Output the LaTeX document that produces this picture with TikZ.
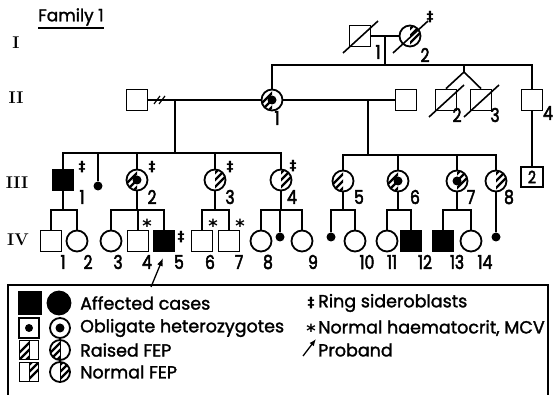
\documentclass[tikz,border=0pt]{standalone}
\usepackage{fontspec}
\usepackage{graphicx}
\usetikzlibrary{calc,arrows.meta}
\newfontfamily\pop[FakeBold=1.6]{Poppins}
\newfontfamily\popb[FakeBold=3]{Poppins}
\newfontfamily\dvs{DejaVu Sans}
\newcommand\hatchC[3]{\begin{scope}\clip (#1.center) circle (#3pt);
  \clip ($(#1.center)+(0,-15)$) rectangle ($(#1.center)+(#2*15,15)$);
  \foreach \k in {-7,0,7} \draw[line width=2.4pt] ($(#1.center)+(\k-15,15)$) -- ($(#1.center)+(\k+15,-15)$);
  \end{scope}}
\newcommand\hatchS[3]{\begin{scope}\clip ($(#1.center)+(-#3,-#3)$) rectangle ($(#1.center)+(#3,#3)$);
  \clip ($(#1.center)+(0,-15)$) rectangle ($(#1.center)+(#2*15,15)$);
  \foreach \k in {-7,0,7} \draw[line width=2.4pt] ($(#1.center)+(\k-15,15)$) -- ($(#1.center)+(\k+15,-15)$);
  \end{scope}
  \draw[line width=1pt] ($(#1.center)+(0,-#3)$) -- ($(#1.center)+(0,#3)$);}
\newcommand\hetdot[2]{\fill (#1.center) circle (#2pt);}
\newcommand\dead[1]{\draw[line width=1.6pt] ($(#1.center)+(-17,17)$) -- ($(#1.center)+(18,-15)$);}
\newcommand\nm[1]{\scalebox{0.82}[1]{#1}}
\begin{document}
\begin{tikzpicture}[x=1pt,y=-1pt,
  ln/.style={line width=1.6pt},
  male/.style={draw, rectangle, minimum size=21pt, inner sep=0pt, line width=1.8pt},
  female/.style={draw, circle, minimum size=21pt, inner sep=0pt, line width=1.8pt},
  aff/.style={fill=black},
  tinyd/.style={circle, fill=black, minimum size=9pt, inner sep=0pt},
  num/.style={font=\popb\fontsize{19}{19}\selectfont, inner sep=0pt},
  gen/.style={font=\bfseries\fontsize{17}{17}\selectfont, inner sep=0pt},
  ring/.style={font=\dvs\bfseries\fontsize{14}{14}\selectfont, inner sep=0pt},
  star/.style={font=\dvs\bfseries\fontsize{18}{18}\selectfont, inner sep=0pt},
  lgt/.style={font=\pop\fontsize{17.5}{17.5}\selectfont, inner sep=0pt, anchor=west}
]
\useasboundingbox (0,0) rectangle (555,395);
\fill[white] (0,0) rectangle (555,395);

% title and generation labels
\node[font=\pop\fontsize{17}{17}\selectfont, inner sep=0pt, anchor=west] (title) at (38,17) {Family 1};
\draw[line width=1.3pt] ($(title.south west)+(0,2)$) -- ($(title.south east)+(0,2)$);
\node[gen] (gI) at (16,43) {I};
\node[gen] (gII) at (16,98) {II};
\node[gen] (gIII) at (17,183) {III};
\node[gen] (gIV) at (18,240) {IV};

% generation I
\node[male] (i1) at (360,36) {};
\node[female] (i2) at (410,36) {};
\hatchC{i2}{1}{10.5}
\dead{i1}\dead{i2}
\draw[ln] (i1.east) -- (i2.west);
\coordinate (iM) at (385,36);
\coordinate (yS) at (385,65);
\draw[ln] (iM) -- (yS);
\node[num] (li1) at (378,52) {\nm{1}};
\node[num] (li2) at (425,55) {\nm{2}};
\node[ring] (ri2) at (430,17) {‡};

% generation II
\node[male] (iia) at (137,100) {};
\node[female] (ii1) at (272,100) {};
\hatchC{ii1}{-1}{10.5}\hetdot{ii1}{4.5}
\node[male] (iib) at (406,100) {};
\node[male] (ii2) at (446,100) {};
\node[male] (ii3) at (481,100) {};
\node[male] (ii4) at (532,100) {};
\dead{ii2}\dead{ii3}
\draw[ln] (ii1.north) -- (ii1.north |- yS) -- (ii4.north |- yS) -- (ii4.north);
\coordinate (twt) at (464,65);
\coordinate (tw) at (464,72);
\draw[ln] (twt) -- (tw);
\draw[ln] (ii2.north) -- (tw) -- (ii3.north);
\draw[ln] (iia.east) -- (ii1.west);
\draw[line width=1.2pt] (154,104) -- (160,96) (159,104) -- (165,96);
\draw[ln] (ii1.east) -- (iib.west);
\node[num] (lii1) at (277,118) {\nm{1}};
\node[num] (lii2) at (457,115) {\nm{2}};
\node[num] (lii3) at (495,115) {\nm{3}};
\node[num] (lii4) at (548,113) {\nm{4}};

% generation III
\coordinate (dA) at (175,100);
\coordinate (yA) at (175,153);
\coordinate (dB) at (368,100);
\coordinate (yB) at (368,155);
\draw[ln] (dA) -- (yA);
\draw[ln] (dB) -- (yB);
\node[male, aff] (iii1) at (63,180) {};
\node[tinyd] (iiid) at (98,186) {};
\node[female] (iii2) at (137,180) {};
\hatchC{iii2}{-1}{10.5}\hetdot{iii2}{4.5}
\node[female] (iii3) at (215,180) {};
\hatchC{iii3}{1}{10.5}
\node[female] (iii4) at (281,180) {};
\hatchC{iii4}{1}{10.5}
\node[female] (iii5) at (343,181) {};
\hatchC{iii5}{-1}{10.5}
\node[female] (iii6) at (398,181) {};
\hatchC{iii6}{-1}{10.5}\hetdot{iii6}{4.5}
\node[female] (iii7) at (457,181) {};
\hatchC{iii7}{1}{10.5}\hetdot{iii7}{4.5}
\node[female] (iii8) at (496,181) {};
\hatchC{iii8}{1}{10.5}
\node[male, minimum width=22pt, minimum height=20pt, font=\popb\fontsize{17}{17}\selectfont] (iii9) at (532,177) {\nm{2}};
\draw[ln] (ii4.south) -- (iii9.north);
\draw[ln] (iii1.north) -- (iii1.north |- yA) -- (iii4.north |- yA) -- (iii4.north);
\draw[ln] (iiid.north) -- (iiid.north |- yA);
\draw[ln] (iii2.north) -- (iii2.north |- yA);
\draw[ln] (iii3.north) -- (iii3.north |- yA);
\draw[ln] (iii5.north) -- (iii5.north |- yB) -- (iii8.north |- yB) -- (iii8.north);
\draw[ln] (iii6.north) -- (iii6.north |- yB);
\draw[ln] (iii7.north) -- (iii7.north |- yB);
\node[num] (liii1) at (82,197) {\nm{1}};
\node[num] (liii2) at (152,197) {\nm{2}};
\node[num] (liii3) at (230,197) {\nm{3}};
\node[num] (liii4) at (292,197) {\nm{4}};
\node[num] (liii5) at (359,197) {\nm{5}};
\node[num] (liii6) at (415,197) {\nm{6}};
\node[num] (liii7) at (471,197) {\nm{7}};
\node[num] (liii8) at (509,197) {\nm{8}};
\node[ring] (riii1) at (82,167) {‡};
\node[ring] (riii2) at (152,167) {‡};
\node[ring] (riii3) at (230,167) {‡};
\node[ring] (riii4) at (293,166) {‡};

% generation IV
\coordinate (yC) at (0,210);
\node[male] (iv1) at (51,241) {};
\node[female] (iv2) at (77,241) {};
\node[female] (iv3) at (111,241) {};
\node[male] (iv4) at (138,241) {};
\node[male, aff] (iv5) at (164,241) {};
\node[male] (iv6) at (202,241) {};
\node[male] (iv7) at (229,241) {};
\node[female] (iv8) at (261,241) {};
\node[tinyd] (ivd1) at (280,237) {};
\node[female] (iv9) at (302,241) {};
\node[tinyd] (ivd2) at (331,237) {};
\node[female] (iv10) at (355,241) {};
\node[female] (iv11) at (387,241) {};
\node[male, aff] (iv12) at (411,241) {};
\node[male, aff] (iv13) at (443,241) {};
\node[female] (iv14) at (471,241) {};
\node[tinyd] (ivd3) at (496,237) {};

\draw[ln] (iii1.south) -- (iii1.south |- yC);
\draw[ln] (iv1.north) -- (iv1.north |- yC) -- (iv2.north |- yC) -- (iv2.north);
\draw[ln] (iii2.south) -- (iii2.south |- yC);
\draw[ln] (iv3.north) -- (iv3.north |- yC) -- (iv5.north |- yC) -- (iv5.north);
\draw[ln] (iv4.north) -- (iv4.north |- yC);
\draw[ln] (iii3.south) -- (iii3.south |- yC);
\draw[ln] (iv6.north) -- (iv6.north |- yC) -- (iv7.north |- yC) -- (iv7.north);
\draw[ln] (iii4.south) -- (iii4.south |- yC);
\draw[ln] (iv8.north) -- (iv8.north |- yC) -- (iv9.north |- yC) -- (iv9.north);
\draw[ln] (ivd1.north) -- (ivd1.north |- yC);
\draw[ln] (iii5.south) -- (iii5.south |- yC);
\draw[ln] (ivd2.north) -- (ivd2.north |- yC) -- (iv10.north |- yC) -- (iv10.north);
\draw[ln] (iii6.south) -- (iii6.south |- yC);
\draw[ln] (iv11.north) -- (iv11.north |- yC) -- (iv12.north |- yC) -- (iv12.north);
\draw[ln] (iii7.south) -- (iii7.south |- yC);
\draw[ln] (iv13.north) -- (iv13.north |- yC) -- (iv14.north |- yC) -- (iv14.north);
\draw[ln] (iii8.south) -- (ivd3.north);

\node[num] (liv1) at (63,262) {\nm{1}};
\node[num] (liv2) at (88,262) {\nm{2}};
\node[num] (liv3) at (118,262) {\nm{3}};
\node[num] (liv4) at (147,262) {\nm{4}};
\node[num] (liv5) at (179,262) {\nm{5}};
\node[num] (liv6) at (210,262) {\nm{6}};
\node[num] (liv7) at (239,262) {\nm{7}};
\node[num] (liv8) at (268,262) {\nm{8}};
\node[num] (liv9) at (313,262) {\nm{9}};
\node[num] (liv10) at (367,262) {\nm{10}};
\node[num] (liv11) at (392,262) {\nm{11}};
\node[num] (liv12) at (425,262) {\nm{12}};
\node[num] (liv13) at (457,262) {\nm{13}};
\node[num] (liv14) at (485,262) {\nm{14}};
\node[ring] (riv5) at (181,237) {‡};
\node[star] (siv4) at (147,226) {*};
\node[star] (siv6) at (213,226) {*};
\node[star] (siv7) at (240,226) {*};
\coordinate (pbT) at (151,287);
\coordinate (pbH) at (163,258);
\draw[line width=1.3pt, -{Latex[length=8pt,width=6pt]}] (pbT) -- (pbH);

% legend
\draw[line width=1.5pt] (8,400) -- (8,285) -- (548,285) -- (548,400);
\node[male, aff, minimum size=23pt] (lg1s) at (30,303) {};
\node[female, aff, minimum size=23pt] (lg1c) at (59,303) {};
\node[male, minimum size=20pt] (lg2s) at (29,328) {};
\hetdot{lg2s}{4}
\node[female, minimum size=20pt] (lg2c) at (60,328) {};
\hetdot{lg2c}{4.5}
\node[male, minimum size=19pt] (lg3s) at (29,350) {};
\hatchS{lg3s}{-1}{9.5}
\node[female, minimum size=20pt] (lg3c) at (60,350) {};
\hatchC{lg3c}{-1}{10}
\draw[line width=1pt] ($(lg3c.center)+(0,-10)$) -- ($(lg3c.center)+(0,10)$);
\node[male, minimum size=19pt] (lg4s) at (29,372) {};
\hatchS{lg4s}{1}{9.5}
\node[female, minimum size=20pt] (lg4c) at (60,372) {};
\hatchC{lg4c}{1}{10}
\draw[line width=1pt] ($(lg4c.center)+(0,-10)$) -- ($(lg4c.center)+(0,10)$);
\node[lgt] (t1) at (80,303) {Affected cases};
\node[lgt] (t2) at (80,328) {Obligate heterozygotes};
\node[lgt] (t3) at (80,350) {Raised FEP};
\node[lgt] (t4) at (80,372) {Normal FEP};
\node[ring] (kr) at (311,303) {‡};
\node[lgt] (t5) at (318,303) {Ring sideroblasts};
\node[star] (ks) at (311,331) {*};
\node[lgt] (t6) at (318,328) {Normal haematocrit, MCV};
\coordinate (kpT) at (303,356);
\coordinate (kpH) at (316,339);
\draw[line width=1.3pt, -{Latex[length=7pt,width=5.5pt]}] (kpT) -- (kpH);
\node[lgt] (t7) at (318,350) {Proband};
\end{tikzpicture}
\end{document}
